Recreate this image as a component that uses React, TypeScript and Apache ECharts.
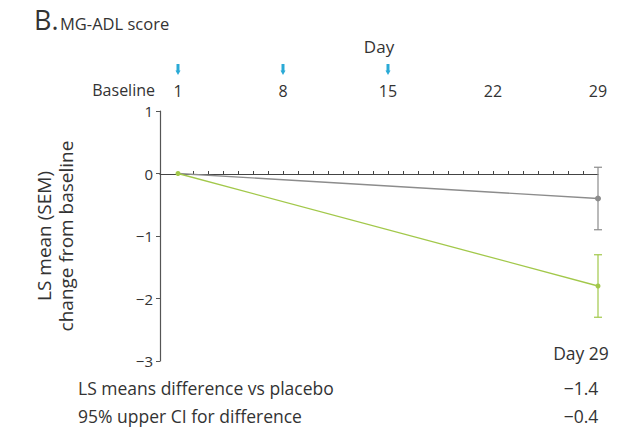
import React, { useEffect, useRef } from "react";
import * as echarts from "echarts";

const topDayLabels = [1, 8, 15, 22, 29];
const arrowDays = [1, 8, 15];
const dayTicks = [2, 3, 4, 5, 6, 7, 8, 9, 10, 11, 12, 13, 14, 15, 16, 17, 18, 19, 20, 21, 22, 23, 24, 25, 26, 27, 28];
const placeboLine = [[1, 0], [29, -0.4]];
const treatLine = [[1, 0], [29, -1.8]];
const placeboErr = [[29, -0.9, 0.1]];
const treatErr = [[29, -2.3, -1.3]];
const tableRows = [
  ["LS means difference vs placebo", "\u22121.4"],
  ["95% upper CI for difference", "\u22120.4"],
];

const GRAY = "#8c8c8c";
const GREEN = "#a2c84a";
const CYAN = "#2aaad6";
const FONT = "Open Sans";
const TXT = "#333";

function errSeries(data: number[][], color: string) {
  return {
    type: "custom",
    xAxisIndex: 0,
    yAxisIndex: 0,
    data,
    z: 3,
    renderItem: (params: any, api: any) => {
      const x = api.value(0);
      const lo = api.coord([x, api.value(1)]);
      const hi = api.coord([x, api.value(2)]);
      const w = 4;
      const st = { stroke: color, lineWidth: 1.2 };
      return {
        type: "group",
        children: [
          { type: "line", shape: { x1: lo[0], y1: lo[1], x2: hi[0], y2: hi[1] }, style: st },
          { type: "line", shape: { x1: lo[0] - w, y1: lo[1], x2: lo[0] + w, y2: lo[1] }, style: st },
          { type: "line", shape: { x1: hi[0] - w, y1: hi[1], x2: hi[0] + w, y2: hi[1] }, style: st },
        ],
      };
    },
  };
}

export default function App() {
  const ref = useRef<HTMLDivElement>(null);
  useEffect(() => {
    document.body.style.margin = "0";
    const chart = echarts.init(ref.current!, null, { renderer: "svg" });
    const option: any = {
      animation: false,
      grid: [
        { left: 160, right: 36, top: 111, bottom: 68 },
        { left: 160, right: 36, top: 111, bottom: 255 },
      ],
      xAxis: [
        {
          type: "value",
          gridIndex: 0,
          min: -0.2,
          max: 29,
          position: "top",
          axisLine: { show: false, onZero: false },
          axisTick: { show: false },
          splitLine: { show: false },
          axisLabel: { customValues: topDayLabels, margin: 12, fontSize: 16, color: TXT, fontFamily: FONT },
          name: "Day",
          nameLocation: "middle",
          nameGap: 56,
          nameTextStyle: { fontSize: 17, color: TXT, fontFamily: FONT },
        },
        {
          type: "value",
          gridIndex: 1,
          min: -0.2,
          max: 29,
          position: "bottom",
          axisLine: { show: true, onZero: false, lineStyle: { color: "#444", width: 1.2 } },
          axisTick: { show: true, inside: true, length: 3, customValues: dayTicks, lineStyle: { color: "#444" } },
          axisLabel: { show: false },
          splitLine: { show: false },
        },
      ],
      yAxis: [
        {
          type: "value",
          gridIndex: 0,
          min: -3,
          max: 1,
          interval: 1,
          axisLine: { show: true, onZero: false, lineStyle: { color: "#555", width: 1.2 } },
          axisTick: { show: true, length: 4, lineStyle: { color: "#555" } },
          splitLine: { show: false },
          axisLabel: {
            fontSize: 15,
            color: TXT,
            fontFamily: FONT,
            margin: 7,
            formatter: (v: number) => (v < 0 ? "\u2212" + Math.abs(v) : String(v)),
          },
          name: "LS mean (SEM)\nchange from baseline",
          nameLocation: "middle",
          nameRotate: 90,
          nameGap: 83,
          nameTextStyle: { fontSize: 19, color: TXT, fontFamily: FONT, lineHeight: 22 },
        },
        {
          type: "value",
          gridIndex: 1,
          min: 0,
          max: 1,
          show: false,
        },
      ],
      series: [
        {
          type: "line",
          data: placeboLine,
          xAxisIndex: 0,
          yAxisIndex: 0,
          lineStyle: { color: GRAY, width: 1.3 },
          itemStyle: { color: GRAY },
          symbol: "circle",
          symbolSize: (v: number[]) => (v[0] === 1 ? 0 : 6),
          z: 2,
        },
        {
          type: "line",
          data: treatLine,
          xAxisIndex: 0,
          yAxisIndex: 0,
          lineStyle: { color: GREEN, width: 1.3 },
          itemStyle: { color: GREEN },
          symbol: "circle",
          symbolSize: 5,
          z: 4,
        },
        errSeries(placeboErr, GRAY),
        errSeries(treatErr, GREEN),
      ],
    };
    chart.setOption(option);

    const graphics: any[] = [
      { type: "text", x: 34, y: 33, style: { text: "B.", font: `27px '${FONT}'`, fill: TXT, verticalAlign: "bottom" } },
      { type: "text", x: 60, y: 32, style: { text: "MG-ADL score", font: `16.5px '${FONT}'`, fill: TXT, verticalAlign: "bottom" } },
      { type: "text", x: 155, y: 90, style: { text: "Baseline", font: `16px '${FONT}'`, fill: TXT, align: "right", verticalAlign: "middle" } },
      { type: "text", x: 581, y: 353, style: { text: "Day 29", font: `17.5px '${FONT}'`, fill: TXT, align: "center", verticalAlign: "middle" } },
    ];
    tableRows.forEach((r, i) => {
      const y = 388 + i * 28;
      graphics.push({ type: "text", x: 78, y, style: { text: r[0], font: `17.5px '${FONT}'`, fill: TXT, verticalAlign: "middle" } });
      graphics.push({ type: "text", x: 581, y, style: { text: r[1], font: `17.5px '${FONT}'`, fill: TXT, align: "center", verticalAlign: "middle" } });
    });
    arrowDays.forEach((d) => {
      const px = chart.convertToPixel({ xAxisIndex: 0 }, d) as number;
      graphics.push({ type: "rect", shape: { x: px - 1.5, y: 64, width: 3, height: 7 }, style: { fill: CYAN } });
      graphics.push({ type: "polygon", shape: { points: [[px - 2.5, 70.5], [px + 2.5, 70.5], [px, 75]] }, style: { fill: CYAN } });
    });
    chart.setOption({ graphic: graphics });

    return () => chart.dispose();
  }, []);
  return <div ref={ref} style={{ width: 634, height: 429 }} />;
}
